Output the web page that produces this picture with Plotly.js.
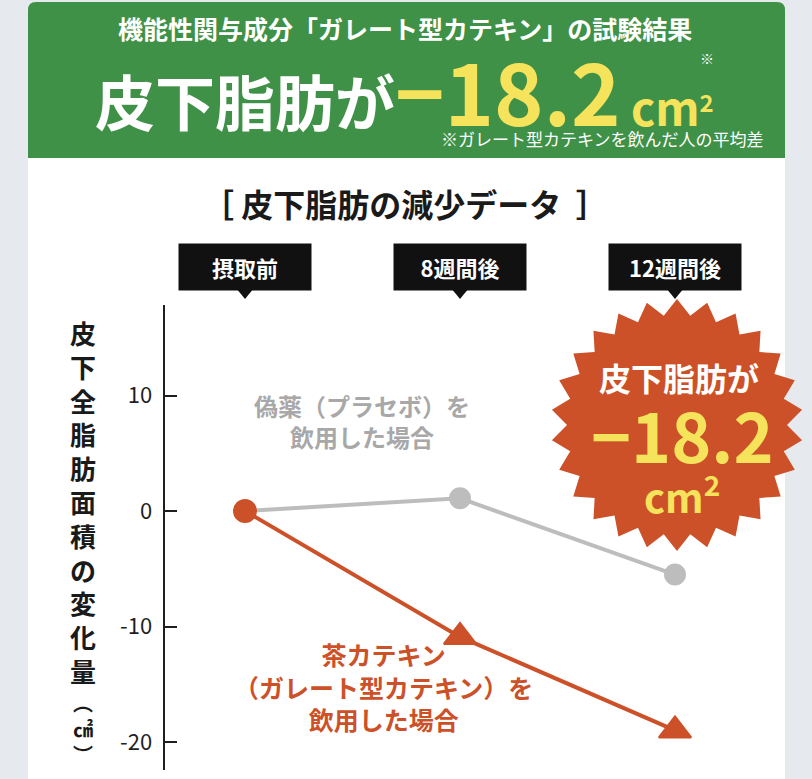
<!DOCTYPE html>
<html><head><meta charset="utf-8">
<script src="https://cdn.plot.ly/plotly-3.0.1.min.js"></script>
<style>html,body{margin:0;padding:0;background:#e6e9ee;}</style>
</head><body><div id="chart" style="width:812px;height:779px;"></div>
<script>
// ---- data ----
const categories = ['摂取前', '8週間後', '12週間後'];
const placeboValues = [0, 1.1, -5.5];
const catechinValues = [0, -10.9, -19.0];
const yTickVals = [10, 0, -10, -20];
const yTickText = ['10', '0', '-10', '-20'];
const headerLine1 = '機能性関与成分「ガレート型カテキン」の試験結果';
const headerLead = '皮下脂肪が';
const headerValue = '−18.2';
const headerUnit = 'cm';
const headerNote = '※ガレート型カテキンを飲んだ人の平均差';
const chartTitle = '［ 皮下脂肪の減少データ  ］';
const yTitleMain = '皮下全脂肪面積の変化量';
const yTitleUnit = ['︵', '㎠', '︶'];
const placeboLabel = ['偽薬（プラセボ）を', '飲用した場合'];
const catechinLabel = ['茶カテキン', '（ガレート型カテキン）を', '飲用した場合'];
const badgeLead = '皮下脂肪が';
const badgeValue = '−18.2';

// ---- geometry helpers ----
const W = 812, H = 779, L = 165, R = 0, T = 305, B = 9;
const pw = W - L - R, ph = H - T - B;
const px = x => (x - L) / pw;
const py = y => (H - B - y) / ph;

const GREEN = '#409148', ORANGE = '#cd5128', GRAY = '#bdbdbd', YELLOW = '#f6e35c';
const FONT = '"Noto Sans CJK JP", "Noto Sans", sans-serif';

const shapes = [];
// white card
shapes.push({type: 'rect', xref: 'paper', yref: 'paper', layer: 'below',
  x0: px(28), x1: px(785), y0: py(800), y1: py(150), fillcolor: '#ffffff', line: {width: 0}});
// green header with rounded top corners
shapes.push({type: 'path', xref: 'paper', yref: 'paper', layer: 'below',
  path: `M ${px(28)},${py(158)} L ${px(28)},${py(10)} Q ${px(28)},${py(2)} ${px(36)},${py(2)} L ${px(777)},${py(2)} Q ${px(785)},${py(2)} ${px(785)},${py(10)} L ${px(785)},${py(158)} Z`,
  fillcolor: GREEN, line: {width: 0}});
// pointers under category boxes
const unit = 215;
categories.forEach((c, i) => {
  const d = 9 / unit;
  shapes.push({type: 'path', xref: 'x', yref: 'paper',
    path: `M ${i - d},${py(288)} L ${i + d},${py(288)} L ${i},${py(299)} Z`,
    fillcolor: '#111111', line: {width: 0}});
});
// starburst badge
(function () {
  const cx = 677, cy = 425, ro = 126, ri = 110, n = 26;
  let p = '';
  for (let k = 0; k < 2 * n; k++) {
    const a = -Math.PI / 2 + k * Math.PI / n;
    const r = k % 2 === 0 ? ro : ri;
    const x = cx + r * Math.cos(a), y = cy + r * Math.sin(a);
    p += (k === 0 ? 'M ' : ' L ') + px(x) + ',' + py(y);
  }
  p += ' Z';
  shapes.push({type: 'path', xref: 'paper', yref: 'paper', path: p, fillcolor: ORANGE, line: {width: 0}});
})();

const annotations = [];
const ann = (o) => annotations.push(Object.assign({showarrow: false, xref: 'paper', yref: 'paper',
  xanchor: 'center', yanchor: 'middle'}, o));

// header
ann({x: px(405), y: py(28), text: headerLine1, font: {family: FONT, size: 25, color: '#ffffff', weight: 700}});
ann({x: px(404), y: py(90), text:
  `<span style="font-size:60px;color:#ffffff">${headerLead}</span><span style="font-size:84px;color:${YELLOW}">${headerValue}</span><span style="font-size:46px;color:${YELLOW}"> ${headerUnit}</span><span style="font-size:34px;color:${YELLOW}"><sup>2</sup></span>`,
  font: {family: FONT, size: 60, color: '#ffffff', weight: 700}});
ann({x: px(707), y: py(58), text: '※', font: {family: FONT, size: 14, color: '#ffffff'}});
ann({x: px(766), xanchor: 'right', y: py(138), text: headerNote, font: {family: FONT, size: 17, color: '#ffffff'}});
// chart title
ann({x: px(405), y: py(203), text: chartTitle, font: {family: FONT, size: 32, color: '#1a1a1a', weight: 700}});
// category boxes
categories.forEach((c) => {
  ann({x: c, xref: 'x', y: py(267), text: c, width: 130, height: 44, bgcolor: '#111111',
    font: {family: FONT, size: 22, color: '#ffffff', weight: 700}});
});
// y-axis title stacked vertically
ann({x: px(83), y: py(312), yanchor: 'top', text: yTitleMain.split('').join('<br>'),
  font: {family: FONT, size: 26, color: '#1a1a1a', weight: 700}});
ann({x: px(83), y: py(686), yanchor: 'top', text: yTitleUnit.join('<br>'),
  font: {family: FONT, size: 20, color: '#1a1a1a', weight: 700}});
// series labels
ann({x: px(362), y: py(421), text: placeboLabel.join('<br>'),
  font: {family: FONT, size: 24, color: '#a8a8a8', weight: 700}});
ann({x: px(383), y: py(686), text: catechinLabel.join('<br>'),
  font: {family: FONT, size: 25, color: ORANGE, weight: 700}});
// badge text
ann({x: px(679), y: py(377), text: badgeLead, font: {family: FONT, size: 32, color: '#ffffff', weight: 700}});
ann({x: px(682), y: py(433), text: badgeValue, font: {family: FONT, size: 68, color: YELLOW, weight: 700}});
ann({x: px(682), y: py(494), text: 'cm<sup>2</sup>', font: {family: FONT, size: 40, color: YELLOW, weight: 700}});

const traces = [
  {x: categories, y: placeboValues, type: 'scatter', mode: 'lines+markers', name: '偽薬',
    line: {color: GRAY, width: 4},
    marker: {symbol: 'circle', size: 20, color: GRAY, line: {color: GRAY, width: 2}},
    cliponaxis: false, hoverinfo: 'skip'},
  {x: categories, y: catechinValues, type: 'scatter', mode: 'lines+markers', name: '茶カテキン',
    line: {color: ORANGE, width: 4},
    marker: {symbol: ['circle', 'triangle-up', 'triangle-up'], size: [22, 28, 28], color: ORANGE,
      opacity: 1, line: {color: ORANGE, width: 2}},
    cliponaxis: false, hoverinfo: 'skip'}
];

const layout = {
  width: W, height: H,
  margin: {l: L, r: R, t: T, b: B},
  paper_bgcolor: '#e6e9ee', plot_bgcolor: 'rgba(0,0,0,0)',
  showlegend: false,
  font: {family: FONT},
  xaxis: {type: 'category', range: [-80 / unit, 2 + 137 / unit], showticklabels: false,
    showgrid: false, zeroline: false, showline: false, ticks: ''},
  yaxis: {range: [-(770 - 511) / 11.55, (511 - 305) / 11.55], tickvals: yTickVals, ticktext: yTickText,
    showgrid: false, zeroline: false, showline: true, linecolor: '#1f1f1f', linewidth: 2.5,
    ticks: 'inside', ticklen: 12, tickwidth: 2, tickcolor: '#1f1f1f',
    tickfont: {family: FONT, size: 22, color: '#1f1f1f'}, ticklabelstandoff: 6},
  shapes: shapes,
  annotations: annotations
};

Plotly.newPlot('chart', traces, layout, {displayModeBar: false, staticPlot: true});
</script></body></html>
